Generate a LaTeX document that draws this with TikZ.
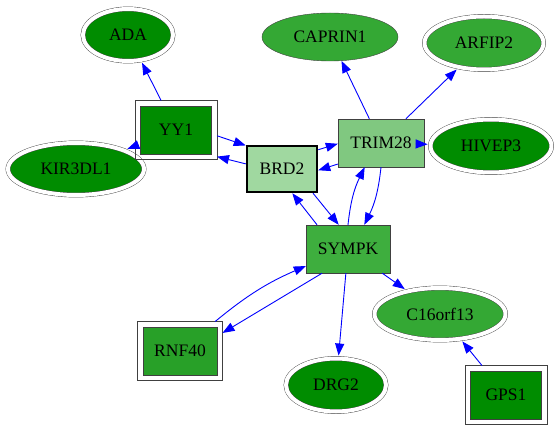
\documentclass[tikz,border=0pt]{standalone}
\usepackage{fontspec}
\setmainfont{Liberation Serif}
\usetikzlibrary{shapes.geometric,arrows.meta}

\definecolor{gdark}{RGB}{0,140,0}
\definecolor{gmid}{RGB}{52,168,52}
\definecolor{gsym}{RGB}{62,174,62}
\definecolor{grnf}{RGB}{40,160,40}
\definecolor{gtrim}{RGB}{128,200,128}
\definecolor{gbrd}{RGB}{160,216,160}
\definecolor{rim}{RGB}{64,64,64}

\tikzset{
  gene/.style={ellipse, draw=rim, inner sep=0pt, font=\fontsize{17.5}{20}\selectfont},
  dgene/.style={gene, double=white, double distance=4pt, outer sep=3pt},
  prot/.style={rectangle, draw=rim, inner sep=0pt, font=\fontsize{17.5}{20}\selectfont},
  dprot/.style={prot, outer sep=5.5pt},
  link/.style={blue, line width=0.9pt, -{Triangle[length=12pt,width=9pt]}}
}

\begin{document}
\begin{tikzpicture}[x=1pt,y=1pt]
\useasboundingbox (0,0) rectangle (559,-430);

    \node[dgene, fill=gdark, minimum width=90pt, minimum height=52pt] (ADA) at (128,-35) {ADA};
    \node[dprot, fill=gdark, minimum width=71pt, minimum height=48pt] (YY1) at (176,-130) {YY1};
    \node[dgene, fill=gdark, minimum width=136pt, minimum height=52pt] (KIR) at (76,-169) {KIR3DL1};
    \node[prot, draw=black, fill=gbrd, line width=2.5pt, minimum width=70pt, minimum height=46pt] (BRD2) at (282,-169) {BRD2};

    \node[gene, fill=gmid, minimum width=136pt, minimum height=48pt] (CAPRIN1) at (330,-37) {CAPRIN1};
    \node[dgene, fill=gmid, minimum width=119pt, minimum height=53pt] (ARFIP2) at (484,-43) {ARFIP2};
    \node[prot, fill=gtrim, minimum width=86pt, minimum height=48pt] (TRIM28) at (381,-143) {TRIM28};
    \node[dgene, fill=gdark, minimum width=121pt, minimum height=53pt] (HIVEP3) at (491,-146) {HIVEP3};

    \node[prot, fill=gsym, minimum width=84pt, minimum height=48pt] (SYMPK) at (348,-249) {SYMPK};
    \node[dgene, fill=gmid, minimum width=131pt, minimum height=52pt] (C16) at (440,-314) {C16orf13};
    \node[dprot, fill=grnf, minimum width=74pt, minimum height=48pt] (RNF40) at (180,-351) {RNF40};
    \node[dgene, fill=gdark, minimum width=100pt, minimum height=53pt] (DRG2) at (336,-385) {DRG2};
    \node[dprot, fill=gdark, minimum width=71pt, minimum height=48pt] (GPS1) at (506,-395) {GPS1};

    % outer frames
    \foreach \n in {YY1,RNF40,GPS1}
        \draw[rim] (\n.north west) rectangle (\n.south east);

    % YY1
    \draw[link] (YY1) -- (ADA);
    \draw[link] (YY1) -- (KIR);
    \draw[link] (YY1.-8) -- (BRD2.147);
    \draw[link] (BRD2.172) -- (YY1.-33);

    % BRD2 / TRIM28 / SYMPK
    \draw[link] (BRD2.28) -- (TRIM28.181);
    \draw[link] (TRIM28.206) -- (BRD2.-2);
    \draw[link] (BRD2.-38) -- (SYMPK.111);
    \draw[link] (SYMPK.142) -- (BRD2.-67);
    \draw[link] (TRIM28.-90) to[bend left=10] (SYMPK.56);
    \draw[link] (SYMPK.90) to[bend left=10] (TRIM28.236);

    % TRIM28
    \draw[link] (TRIM28) -- (CAPRIN1);
    \draw[link] (TRIM28) -- (ARFIP2);
    \draw[link] (TRIM28) -- (HIVEP3);

    % SYMPK
    \draw[link] (SYMPK.223) -- (RNF40.23);
    \draw[link] (RNF40.40) to[bend left=8] (SYMPK.-158);
    \draw[link] (SYMPK) -- (DRG2);
    \draw[link] (SYMPK) -- (C16);
    \draw[link] (GPS1) -- (C16);
\end{tikzpicture}
\end{document}
